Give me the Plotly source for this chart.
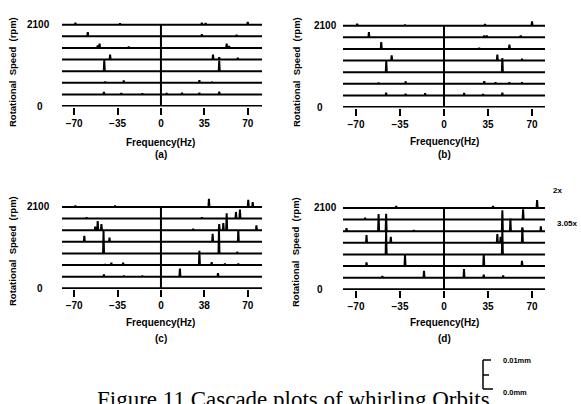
import plotly.graph_objects as go

W, H = 581, 404

# ---------------- data ----------------
SPEEDS = [0, 300, 600, 900, 1200, 1500, 1800, 2100]          # rpm, one cascade line each
FREQ_TICKS = [-70, -35, 0, 35, 70]                            # Hz
RPM_PER_UM = 77.4                                             # vertical amplitude scale (10 um bar)

# spikes per speed line: (frequency Hz, amplitude um), index aligned with SPEEDS
A_SPIKES = [
    [],
    [(-46, 0.8), (-32, 0.4), (-15, 0.3), (4.6, 0.4), (17, 0.5), (31, 0.5), (47, 0.9)],
    [(-45, 0.3), (-30, 0.8), (31, 0.9), (41, 0.3)],
    [(-45.7, 3.7), (47, 3.5)],
    [(-41, 1.6), (42, 1.6), (47, 0.8), (62, 0.6)],
    [(-51, 0.8), (-49.5, 1.4), (-26, 0.4), (53, 1.4), (55, 0.6)],
    [(-59, 1.4), (33, 0.7), (61, 0.5)],
    [(-69, 0.6), (-33, 0.4), (33, 0.6), (36, 0.5), (70, 0.9)],
]
B_SPIKES = [
    [],
    [(-46, 0.9), (-30.5, 0.5), (-15, 0.7), (16, 0.8), (31, 0.4), (46.4, 0.9)],
    [(-52, 0.3), (-30.5, 0.8), (32, 0.9), (41, 0.5), (52, 0.5), (62, 0.5)],
    [(-45.9, 3.7), (46.4, 4.7)],
    [(-41.6, 1.7), (42.4, 2.0), (62, 0.6)],
    [(-49.9, 2.3), (28, 0.3), (52, 1.4)],
    [(-59.7, 1.7), (32, 0.6), (34, 0.6), (61, 0.6)],
    [(-69, 0.6), (-31, 0.3), (32.6, 0.5), (70, 1.4)],
]
C_SPIKES = [
    [],
    [(-46, 0.7), (-30, 0.3), (-15, 0.3), (15.3, 2.7), (46, 1.2)],
    [(-45, 0.3), (-40, 0.8), (-30.5, 0.8), (31, 4.8), (40.9, 1.0), (51.6, 0.5), (62.4, 0.5)],
    [(-46.3, 7.6), (46.8, 8.0), (61.5, 0.5)],
    [(-61.8, 2.0), (-41.5, 1.4), (41.7, 2.7), (62.4, 3.9)],
    [(-53, 1.2), (-51, 3.0), (-48, 2.0), (26, 0.4), (47, 2.0), (50.3, 2.4), (53, 5.6), (77, 1.6)],
    [(-60, 0.4), (33, 0.4), (60.5, 2.2), (63.7, 3.0)],
    [(-69, 0.4), (-37, 0.4), (38.7, 2.7), (70.4, 2.4), (74, 1.6)],
]
D_SPIKES = [
    [],
    [(-49, 0.5), (-15.9, 2.3), (15.9, 2.9), (31.6, 1.0), (47, 0.7)],
    [(-61.6, 1.2), (-31, 3.7), (31.6, 4.0), (62, 1.7)],
    [(-46, 8.0), (46.4, 8.0)],
    [(-61.6, 2.6), (-42.3, 2.0), (42.4, 2.9), (45, 2.0), (62.3, 4.7)],
    [(-77.5, 1.0), (-52, 5.7), (-46, 5.8), (-24, 0.3), (46.4, 7.0), (52.8, 4.2), (62.3, 1.3), (77, 1.6)],
    [(-62.7, 0.6), (62.9, 3.4)],
    [(-38, 0.6), (39, 0.6), (74, 2.6)],
]
PANEL_LABELS = ["(a)", "(b)", "(c)", "(d)"]
TICK_TEXT_C = ["\u221270", "\u221235", "0", "38", "70"]

# ---------------- layout helpers ----------------
def pxx(x):
    return x / W

def pxy(y):
    return 1 - y / H

FONT = "Liberation Sans"
BOLD = dict(family=FONT, size=10, color="black", weight="bold")

# panel geometry in pixels: x-left, x-right, y-bottom, y-top, x-range
PANELS = [
    dict(spk=A_SPIKES, xl=62, xr=262, yb=106.6, yt=13.0, xr_=[-79.8, 81.5], ylab=(38.5, 39.5), ytitle=(13, 72), ftit=142, plab=154, ttext=None),
    dict(spk=B_SPIKES, xl=343, xr=545, yb=107.6, yt=14.0, xr_=[-80.3, 80.3], ylab=(325, 319.5), ytitle=(297, 72), ftit=141, plab=154, ttext=None),
    dict(spk=C_SPIKES, xl=62, xr=262, yb=288.9, yt=195.3, xr_=[-79.8, 81.5], ylab=(38.5, 39.5), ytitle=(12, 251), ftit=322, plab=338, ttext=TICK_TEXT_C),
    dict(spk=D_SPIKES, xl=343, xr=545, yb=289.9, yt=196.3, xr_=[-80.3, 80.3], ylab=(325, 319.5), ytitle=(295, 252), ftit=322, plab=338, ttext=None),
]
YRANGE = [-15, 2400]

fig = go.Figure()
annotations = []
layout = {}

for i, p in enumerate(PANELS):
    n = "" if i == 0 else str(i + 1)
    xa, ya = "x" + n, "y" + n
    xlo, xhi = p["xr_"]
    xs, ys = [], []
    for speed, spikes in zip(SPEEDS, p["spk"]):
        xs.append(xlo); ys.append(speed)
        for f, a in sorted(spikes):
            w = 0.4
            xs += [f - w, f, f + w]
            ys += [speed, speed + a * RPM_PER_UM, speed]
        xs.append(xhi); ys.append(speed)
        xs.append(None); ys.append(None)
    fig.add_trace(go.Scatter(x=xs, y=ys, mode="lines", xaxis=xa, yaxis=ya,
                             line=dict(color="black", width=2), hoverinfo="skip",
                             showlegend=False))
    # zero-frequency axis line
    fig.add_trace(go.Scatter(x=[0, 0], y=[SPEEDS[0], SPEEDS[-1]], mode="lines", xaxis=xa, yaxis=ya,
                             line=dict(color="black", width=2), hoverinfo="skip", showlegend=False))
    ttext = p["ttext"] or [("\u2212" + str(-v)) if v < 0 else str(v) for v in FREQ_TICKS]
    layout["xaxis" + n] = dict(domain=[pxx(p["xl"]), pxx(p["xr"])], range=p["xr_"], anchor=ya,
                               tickvals=FREQ_TICKS, ticktext=ttext, ticks="outside", ticklen=7,
                               tickwidth=2, tickcolor="black", showgrid=False, zeroline=False,
                               showline=False, tickfont=BOLD, fixedrange=True)
    layout["yaxis" + n] = dict(domain=[pxy(p["yb"]), pxy(p["yt"])], range=YRANGE, anchor=xa,
                               showticklabels=False, ticks="", showgrid=False, zeroline=False,
                               showline=False, fixedrange=True)
    # y tick labels (centered like the original)
    annotations.append(dict(text="2100", xref="paper", yref=ya, x=pxx(p["ylab"][0]), y=SPEEDS[-1],
                            xanchor="center", yanchor="middle", showarrow=False, font=BOLD))
    annotations.append(dict(text="0", xref="paper", yref=ya, x=pxx(p["ylab"][1]), y=SPEEDS[0],
                            xanchor="center", yanchor="middle", showarrow=False, font=BOLD))
    annotations.append(dict(text="Rotational  Speed  (rpm)", xref="paper", yref="paper",
                            x=pxx(p["ytitle"][0]), y=pxy(p["ytitle"][1]), textangle=-90,
                            xanchor="center", yanchor="middle", showarrow=False,
                            font=dict(family=FONT, size=9.5, color="black", weight="bold")))
    xc = p["xl"] + (0 - xlo) / (xhi - xlo) * (p["xr"] - p["xl"])
    annotations.append(dict(text="Frequency(Hz)", xref="paper", yref="paper", x=pxx(xc), y=pxy(p["ftit"]),
                            xanchor="center", yanchor="middle", showarrow=False, font=BOLD))
    annotations.append(dict(text=PANEL_LABELS[i], xref="paper", yref="paper", x=pxx(xc), y=pxy(p["plab"]),
                            xanchor="center", yanchor="middle", showarrow=False, font=BOLD))

SMALL = dict(family=FONT, size=8, color="black", weight="bold")
annotations += [
    dict(text="2x", xref="paper", yref="paper", x=pxx(557), y=pxy(190), xanchor="center",
         yanchor="middle", showarrow=False, font=SMALL),
    dict(text="3.05x", xref="paper", yref="paper", x=pxx(580), y=pxy(223), xanchor="right",
         yanchor="middle", showarrow=False, font=SMALL),
    dict(text="0.01mm", xref="paper", yref="paper", x=pxx(501), y=pxy(360), xanchor="left",
         yanchor="middle", showarrow=False, font=dict(family=FONT, size=7.5, color="black", weight="bold")),
    dict(text="0.0mm", xref="paper", yref="paper", x=pxx(501), y=pxy(392), xanchor="left",
         yanchor="middle", showarrow=False, font=dict(family=FONT, size=7.5, color="black", weight="bold")),
    dict(text="Figure 11 Cascade plots of whirling Orbits", xref="paper", yref="paper",
         x=pxx(293), y=pxy(385), xanchor="center", yanchor="top", showarrow=False,
         font=dict(family="Liberation Serif", size=23, color="black")),
]

# scale bar bracket (decoration)
shapes = []
for (x0, y0, x1, y1) in [(483, 360, 483, 389), (483, 360, 491, 360), (483, 375, 489, 375), (483, 389, 493, 389)]:
    shapes.append(dict(type="line", xref="paper", yref="paper", x0=pxx(x0), y0=pxy(y0),
                       x1=pxx(x1), y1=pxy(y1), line=dict(color="black", width=1.5)))

fig.update_layout(width=W, height=H, margin=dict(l=0, r=0, t=0, b=0),
                  paper_bgcolor="white", plot_bgcolor="white",
                  annotations=annotations, shapes=shapes, **layout)

fig.write_html("out.html", config={"displayModeBar": False},
               post_script="document.body.style.margin='0';document.body.style.overflow='hidden';")
